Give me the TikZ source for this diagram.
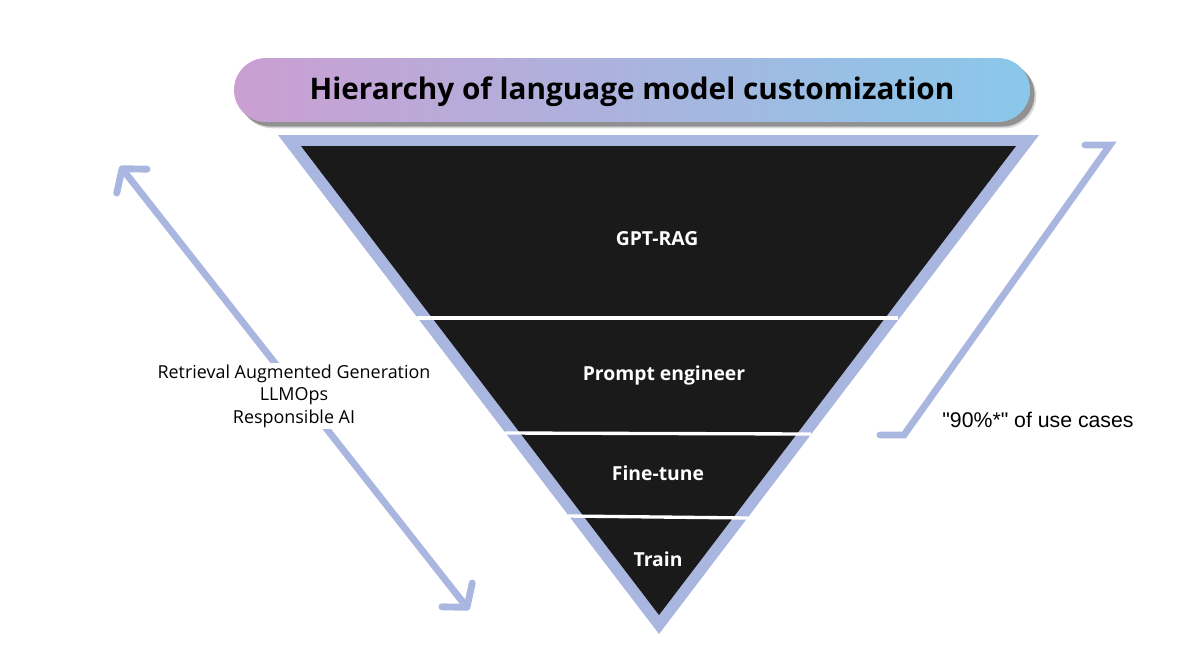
\documentclass[tikz,border=0pt]{standalone}
\usepackage{fontspec}
\setmainfont{Open Sans}
\newfontfamily\notefont{Liberation Sans}
\usetikzlibrary{arrows.meta,shadows}
\definecolor{rimblue}{HTML}{A9B6DF}
\definecolor{coneblack}{HTML}{1A1A1A}
\definecolor{pillpink}{HTML}{CB9FD2}
\definecolor{pillblue}{HTML}{89C8EA}
\tikzset{band/.style={text=white,font=\fontsize{11}{14}\selectfont\bfseries},
         divider/.style={draw=white,line width=1.9pt},
         pill/.style={rounded corners=18.2pt,minimum width=453pt,minimum height=36.4pt,inner sep=0pt,
                      left color=pillpink,right color=pillblue,
                      drop shadow={shadow xshift=3.6pt,shadow yshift=-3.6pt,fill=black!50,opacity=0.3},
                      drop shadow={shadow xshift=2.6pt,shadow yshift=-2.6pt,fill=black!55,opacity=0.7},
                      font=\fontsize{16.9}{22}\selectfont\bfseries},
         line/.style={draw=rimblue,line width=3.9pt,line cap=round},
         sidetext/.style={fill=white,align=center,inner xsep=2pt,inner ysep=1pt,font=\fontsize{10.2}{12.9}\selectfont}
}
\tikzstyle{barb} = [line,{Straight Barb[length=9pt,width=22pt,round]}-{Straight Barb[length=9pt,width=22pt,round]}]

\begin{document}
\begin{tikzpicture}[x=0.02cm,y=-0.02cm]
\useasboundingbox (0,0) rectangle (1199,657);

% cone
\fill[rimblue] (278,135)--(1039,135)--(659,634)--cycle;
\fill[coneblack] (301,146)--(1016,146)--(659,615)--cycle;
\coordinate (d1l) at (417,318);
\coordinate (d1r) at (898,318);
\coordinate (d2l) at (505,433);
\coordinate (d2r) at (811,434);
\coordinate (d3l) at (568,516);
\coordinate (d3r) at (748,518);
\draw[divider] (d1l)--(d1r);
\draw[divider] (d2l)--(d2r);
\draw[divider] (d3l)--(d3r);

\node[pill] (title) at (632,90) {\raisebox{-5.6pt}[0pt][0pt]{Hierarchy of language model customization}};

\node[band] (rag) at (657,239) {GPT-RAG};
\node[band] (prompt) at (664,375) {Prompt engineer};
\node[band] (tune) at (658,473) {Fine-tune};
\node[band] (train) at (658,559) {Train};

% left arrow
\coordinate (uptip) at (120,166);
\coordinate (downtip) at (469,610);
\draw[barb] (uptip)--(downtip);
\node[sidetext] (extras) at (294,396) {Retrieval Augmented Generation\\LLMOps\\Responsible AI};

% right bracket
\coordinate (ra) at (1085,145);
\coordinate (rb) at (1110,145);
\coordinate (rc) at (904,435);
\coordinate (rd) at (880,435);
\draw[line] (ra)--(rb)--(rc)--(rd);
\node[font=\notefont\fontsize{12.1}{14}\selectfont] (share) at (1038,420) {"90\%*" of use cases};

\end{tikzpicture}
\end{document}
